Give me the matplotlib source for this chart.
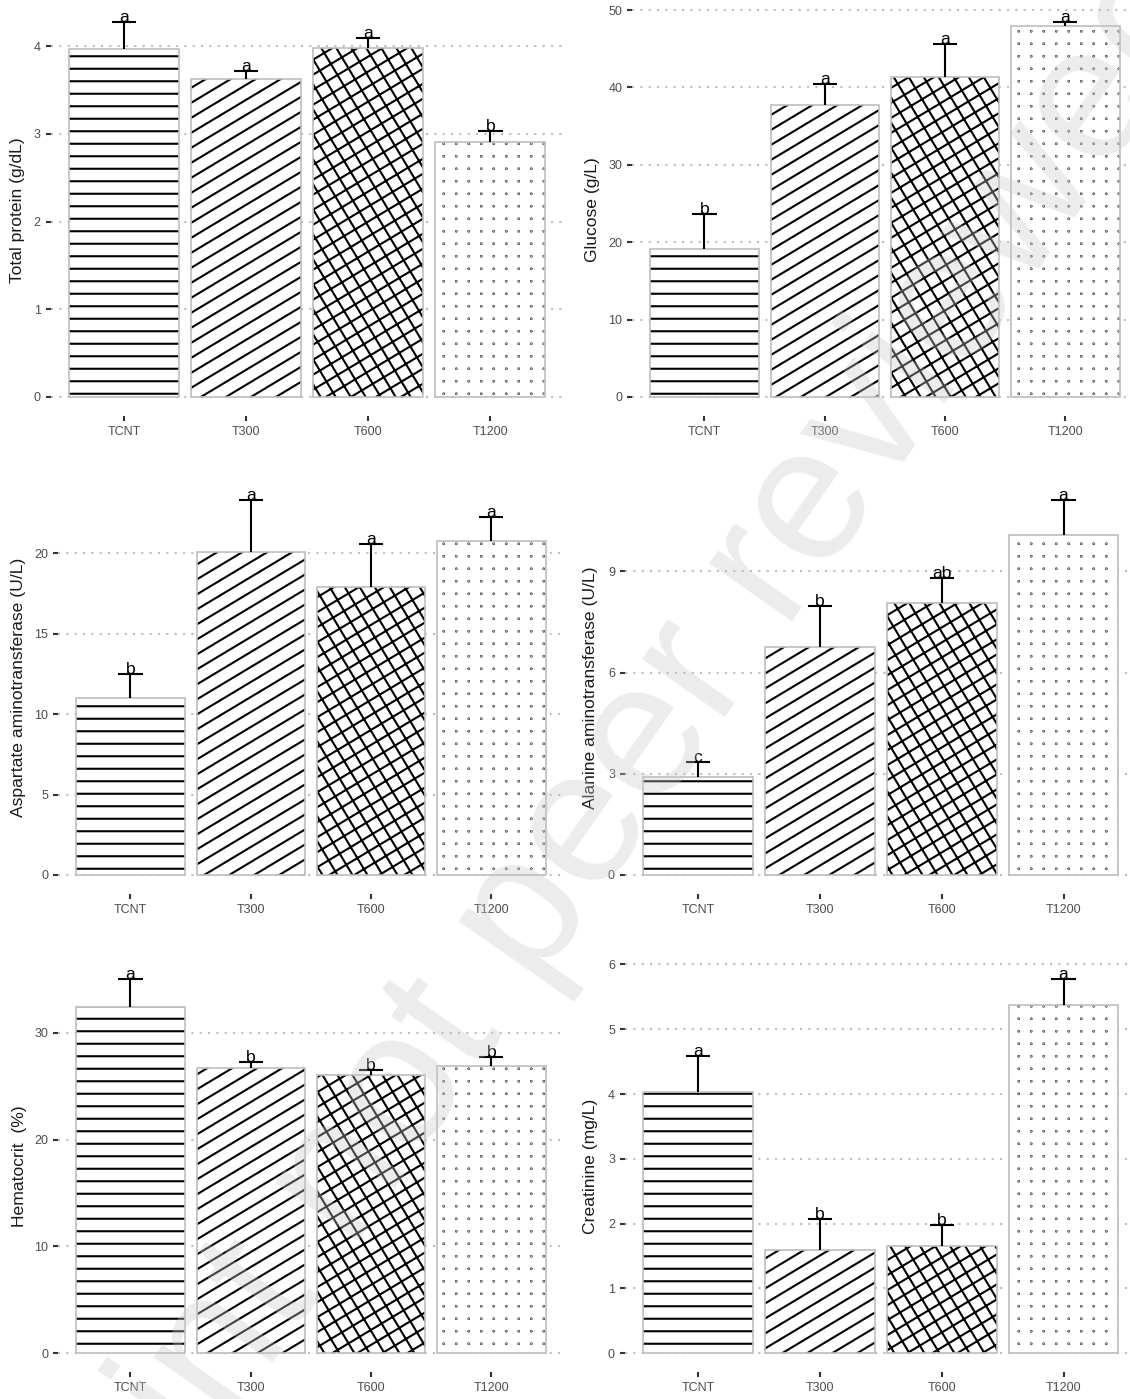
import numpy as np
import matplotlib
matplotlib.use("Agg")
import matplotlib.pyplot as plt
import matplotlib.hatch as mhatch
from matplotlib.path import Path

W, H, DPI = 1130, 1399, 150

groups = ["TCNT", "T300", "T600", "T1200"]
hatches = ["-", "/", "+", "."]

protein_mean = [3.97, 3.63, 3.98, 2.91]
protein_sd = [0.30, 0.09, 0.11, 0.12]
protein_letters = ["a", "a", "a", "b"]
protein_ticks = [0, 1, 2, 3, 4]

glucose_mean = [19.1, 37.7, 41.3, 48.0]
glucose_sd = [4.6, 2.8, 4.3, 0.4]
glucose_letters = ["b", "a", "a", "a"]
glucose_ticks = [0, 10, 20, 30, 40, 50]

ast_mean = [11.0, 20.1, 17.9, 20.8]
ast_sd = [1.5, 3.2, 2.7, 1.5]
ast_letters = ["b", "a", "a", "a"]
ast_ticks = [0, 5, 10, 15, 20]

alt_mean = [2.91, 6.77, 8.05, 10.07]
alt_sd = [0.45, 1.19, 0.74, 1.03]
alt_letters = ["c", "b", "ab", "a"]
alt_ticks = [0, 3, 6, 9]

hct_mean = [32.4, 26.7, 26.0, 26.9]
hct_sd = [2.65, 0.6, 0.55, 0.8]
hct_letters = ["a", "b", "b", "b"]
hct_ticks = [0, 10, 20, 30]

creat_mean = [4.03, 1.60, 1.65, 5.38]
creat_sd = [0.56, 0.47, 0.33, 0.40]
creat_letters = ["a", "b", "b", "a"]
creat_ticks = [0, 1, 2, 3, 4, 5, 6]


# hatch patterns closer to the ggpattern look (30 deg stripes, rotated grid, square dots)
class LineHatch(mhatch.HatchPatternBase):
    char, slope, per_char = "-", 0.0, 12

    def __init__(self, hatch, density):
        n = hatch.count(self.char) * self.per_char
        reach = int(np.ceil(abs(self.slope))) + 1
        self.segs = []
        for k in range(n):
            c = (k + 0.5) / n
            for shift in range(-reach, reach + 1):
                y0 = c + shift
                lo, hi = min(y0, y0 + self.slope), max(y0, y0 + self.slope)
                if hi > -0.2 and lo < 1.2:
                    self.segs.append(y0)
        self.num_vertices = 2 * len(self.segs)

    def set_vertices_and_codes(self, vertices, codes):
        e = 0.1
        for i, y0 in enumerate(self.segs):
            vertices[2 * i] = (-e, y0 - e * self.slope)
            vertices[2 * i + 1] = (1 + e, y0 + (1 + e) * self.slope)
        codes[0::2] = Path.MOVETO
        codes[1::2] = Path.LINETO


class Rows(LineHatch):
    char, slope, per_char = "-", 0.0, 12


class Stripes(LineHatch):
    char, slope, per_char = "/", 3 / 5, 10


class GridA(LineHatch):
    char, slope, per_char = "+", 3 / 5, 10


class GridB(LineHatch):
    char, slope, per_char = "+", -5 / 3, 6


class Dots(mhatch.HatchPatternBase):
    def __init__(self, hatch, density):
        self.n = hatch.count(".") * 12
        circle = Path.unit_circle()
        self.cv, self.cc = circle.vertices, circle.codes
        self.num_vertices = self.n * self.n * len(self.cv)

    def set_vertices_and_codes(self, vertices, codes):
        step = 1.0 / self.n
        m = len(self.cv)
        i = 0
        for cx in (np.arange(self.n) + 0.5) * step:
            for cy in (np.arange(self.n) + 0.5) * step:
                vertices[i:i + m] = self.cv * step * 0.02 + (cx, cy)
                codes[i:i + m] = self.cc
                i += m


mhatch._hatch_types = [Rows, Stripes, GridA, GridB, Dots]

plt.rcParams["font.family"] = ["Liberation Sans", "DejaVu Sans"]
plt.rcParams["hatch.linewidth"] = 1.0

PANEL_H = 412
panels = [
    ("Total protein (g/dL)", protein_mean, protein_sd, protein_letters, protein_ticks),
    ("Glucose (g/L)", glucose_mean, glucose_sd, glucose_letters, glucose_ticks),
    ("Aspartate aminotransferase (U/L)", ast_mean, ast_sd, ast_letters, ast_ticks),
    ("Alanine aminotransferase (U/L)", alt_mean, alt_sd, alt_letters, alt_ticks),
    ("Hematocrit  (%)", hct_mean, hct_sd, hct_letters, hct_ticks),
    ("Creatinine (mg/L)", creat_mean, creat_sd, creat_letters, creat_ticks),
]
# left px, right px, bottom px, y-title x px
boxes = [
    (50.7, 563.7, 415.7, 18),
    (632.3, 1137.6, 415.7, 593),
    (58.3, 563.6, 893.7, 18),
    (625.0, 1136.6, 893.7, 590),
    (58.3, 563.6, 1372.0, 19),
    (625.0, 1136.6, 1372.0, 590),
]

fig = plt.figure(figsize=(W / DPI, H / DPI), dpi=DPI)
x = np.arange(1, len(groups) + 1)

for (title, mean, sd, letters, ticks), (left, right, bottom, lab_x) in zip(panels, boxes):
    ax = fig.add_axes([left / W, 1 - bottom / H, (right - left) / W, PANEL_H / H])
    ax.patch.set_alpha(0)
    top = np.array(mean) + np.array(sd)
    ymax = top.max()

    for xi, m, h in zip(x, mean, hatches):
        ax.bar(xi, m, width=0.9, color="white", edgecolor="black",
               linewidth=0, hatch=h, zorder=2)
    ax.bar(x, mean, width=0.9, fill=False, edgecolor="#BDBDBD",
           linewidth=0.8, zorder=3)

    ax.vlines(x, mean, top, color="black", linewidth=1.0, zorder=4)
    ax.hlines(top, x - 0.1, x + 0.1, color="black", linewidth=1.0, zorder=4)
    for xi, t, lab in zip(x, top, letters):
        ax.text(xi, t, lab, ha="center", va="baseline", fontsize=8.4,
                color="black", zorder=5, clip_on=False)

    ax.set_xlim(0.4, len(groups) + 0.6)
    ax.set_ylim(-0.05 * ymax, 1.05 * ymax)
    ax.set_xticks(x)
    ax.set_xticklabels(groups)
    ax.set_yticks(ticks)
    ax.yaxis.grid(True, color="#BEBEBE", linestyle=(0, (1, 3)), linewidth=1.0)
    ax.set_axisbelow(True)
    for s in ax.spines.values():
        s.set_visible(False)
    ax.tick_params(axis="both", length=2.6, width=1.0, color="#333333",
                   labelcolor="#4D4D4D", labelsize=6.0, pad=2.2)

    ax.set_ylabel(title, fontsize=8.4, color="#1A1A1A", va="center")
    ax.yaxis.set_label_coords((lab_x - left) / (right - left), 0.5)

# preprint watermark
fig.text(540 / W, 1 - 895 / H, "Preprint not peer reviewed", rotation=55,
         ha="center", va="center", fontsize=92, color="#C8C8C8", alpha=0.35,
         zorder=100)

fig.savefig("out.png", dpi=DPI)
